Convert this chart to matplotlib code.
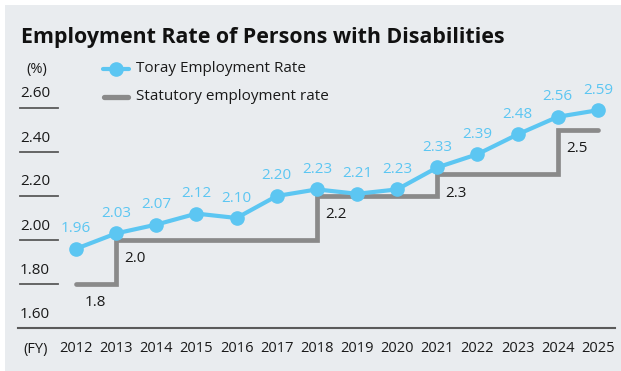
import matplotlib
matplotlib.use("Agg")
import matplotlib.pyplot as plt
from matplotlib.patches import Rectangle
from matplotlib.lines import Line2D

plt.rcParams['font.family'] = ['Open Sans', 'DejaVu Sans']

years = [2012, 2013, 2014, 2015, 2016, 2017, 2018, 2019, 2020, 2021, 2022, 2023, 2024, 2025]
toray = [1.96, 2.03, 2.07, 2.12, 2.10, 2.20, 2.23, 2.21, 2.23, 2.33, 2.39, 2.48, 2.56, 2.59]
statutory = [1.8, 2.0, 2.0, 2.0, 2.0, 2.0, 2.2, 2.2, 2.2, 2.3, 2.3, 2.3, 2.5, 2.5]
statutory_labels = [(2012, 1.8, "1.8"), (2013, 2.0, "2.0"), (2018, 2.2, "2.2"),
                    (2021, 2.3, "2.3"), (2024, 2.5, "2.5")]
yticks = [1.60, 1.80, 2.00, 2.20, 2.40, 2.60]
title = "Employment Rate of Persons with Disabilities"
legend_labels = ["Toray Employment Rate", "Statutory employment rate"]

BG = "#e9ecef"
BLUE = "#5cc6f2"
GRAY = "#8a8a8a"
TXT = "#1a1a1a"

W, H = 621, 371
fig = plt.figure(figsize=(W / 100, H / 100), dpi=100)
fig.patch.set_facecolor("white")
fig.patches.append(Rectangle((5 / W, 0), 1 - 5 / W, 1 - 5 / H, transform=fig.transFigure,
                             facecolor=BG, edgecolor="none", zorder=-10))

def fx(px):
    return px / W

def fy(py):
    return 1 - py / H

ax = fig.add_axes([fx(18), fy(328), (615 - 18) / W, (328 - 75) / H])
ax.set_zorder(1)
ax.set_facecolor("none")
ax.set_xlim(2010.555, 2025.425)
ax.set_ylim(1.6, 2.75)
for s in ["top", "right", "left"]:
    ax.spines[s].set_visible(False)
ax.spines["bottom"].set_color("#5a5a5a")
ax.spines["bottom"].set_linewidth(1.5)
ax.set_xticks([])
ax.set_yticks([])

# statutory step line
ax.step(years, statutory, where="post", color=GRAY, lw=3.4, solid_joinstyle="miter",
        solid_capstyle="round", zorder=2)
# toray line
ax.plot(years, toray, color=BLUE, lw=3.0, marker="o", markersize=9.5, zorder=3)

for x, v in zip(years, toray):
    ax.annotate(f"{v:.2f}", (x, v), xytext=(0, 20), textcoords="offset pixels",
                ha="center", va="center", color=BLUE, fontsize=11)
for x, v, t in statutory_labels:
    ax.annotate(t, (x, v), xytext=(19, -19), textcoords="offset pixels",
                ha="center", va="center", color=TXT, fontsize=11)

# y tick labels with short underlines
ytr = ax.get_yaxis_transform()
x0 = (20 - 18) / (615 - 18)
x1 = (58 - 18) / (615 - 18)
for v in yticks:
    ax.annotate(f"{v:.2f}", (x0, v), xycoords=ytr, xytext=(0, 14), textcoords="offset pixels",
                ha="left", va="center", color=TXT, fontsize=11, annotation_clip=False)
    if v > 1.6:
        ax.plot([x0, x1], [v, v], transform=ytr, color="#5a5a5a", lw=1.3, clip_on=False)

# x labels
xtr = ax.get_xaxis_transform()
for x in years:
    ax.annotate(str(x), (x, 0), xycoords=xtr, xytext=(0, -21), textcoords="offset pixels",
                ha="center", va="center", color=TXT, fontsize=10.5, annotation_clip=False)
fig.text(fx(36), fy(349), "(FY)", ha="center", va="center", color=TXT, fontsize=10.5)
fig.text(fx(37), fy(69), "(%)", ha="center", va="center", color=TXT, fontsize=10.5)

# title
fig.text(fx(21), fy(37), title, ha="left", va="center", color="#111111",
         fontsize=15.4, fontweight="bold")

# legend
fig.lines.append(Line2D([fx(103), fx(129)], [fy(69), fy(69)], transform=fig.transFigure,
                        color=BLUE, lw=3.0, solid_capstyle="round"))
fig.lines.append(Line2D([fx(116)], [fy(69)], transform=fig.transFigure,
                        color=BLUE, marker="o", markersize=9.5, lw=0))
fig.lines.append(Line2D([fx(104), fx(128)], [fy(97), fy(97)], transform=fig.transFigure,
                        color=GRAY, lw=3.8, solid_capstyle="round"))
fig.text(fx(136), fy(69), legend_labels[0], ha="left", va="center", color=TXT, fontsize=11)
fig.text(fx(136), fy(97), legend_labels[1], ha="left", va="center", color=TXT, fontsize=11)

fig.savefig("out.png", dpi=100, facecolor=fig.get_facecolor())
